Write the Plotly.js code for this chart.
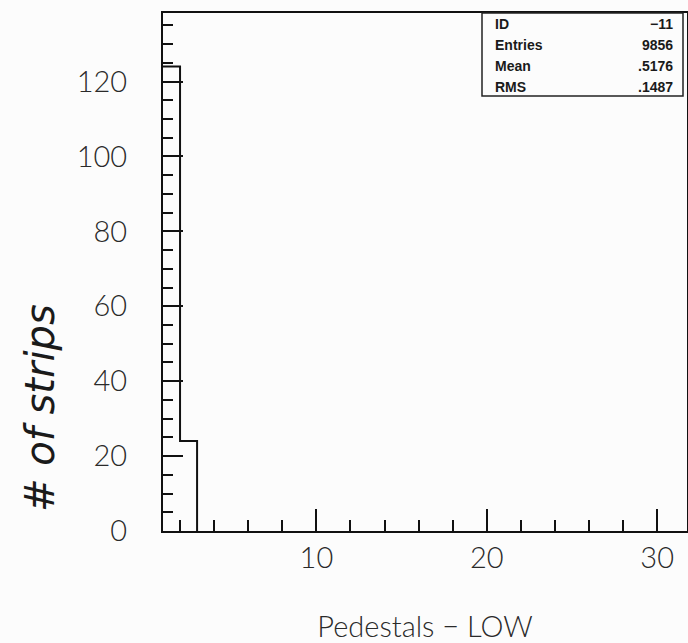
<!DOCTYPE html>
<html>
<head>
<meta charset="utf-8">
<script src="https://cdn.plot.ly/plotly-3.0.1.min.js"></script>
<style>
  html, body { margin: 0; padding: 0; background: #fcfcfc; }
  #chart { width: 688px; height: 643px; }
</style>
</head>
<body>
<div id="chart"></div>
<script>
// Histogram of low-gain pedestals: bin edges and counts per bin
const binEdges = [1, 2, 3];
const binCounts = [124, 24];

// Statistics box contents
const statLabels = ['ID', 'Entries', 'Mean', 'RMS'];
const statValues = ['\u221211', '9856', '.5176', '.1487'];

// Axis tick values
const xTickVals = [10, 20, 30];
const yTickVals = [0, 20, 40, 60, 80, 100, 120];

// Plot area geometry in pixels (used for the stats box placement)
const W = 688, H = 643;
const M = { l: 163, r: 1, t: 13, b: 112 };
const plotW = W - M.l - M.r;
const plotH = H - M.t - M.b;
const px2x = p => (p - M.l) / plotW;
const px2y = p => 1 - (p - M.t) / plotH;

// Outline of the histogram drawn as a step line
const step = {
  type: 'scatter',
  mode: 'lines',
  x: binEdges,
  y: binCounts.concat([0]),
  line: { shape: 'hv', color: '#111', width: 2 },
  hoverinfo: 'skip',
  showlegend: false
};

const tickFont = { family: 'Lato, "DejaVu Sans", sans-serif', size: 29, color: '#2a2a2a', weight: 300 };

const statFont = { family: '"Liberation Sans", Arial, sans-serif', size: 14, color: '#1a1a1a', weight: 'bold' };
const annotations = [];
const rowTop = 24, rowStep = 21;
statLabels.forEach((lab, i) => {
  const yy = px2y(rowTop + i * rowStep);
  annotations.push({
    xref: 'paper', yref: 'paper', x: px2x(493), y: yy,
    xanchor: 'left', yanchor: 'middle', showarrow: false,
    text: lab, font: statFont
  });
  annotations.push({
    xref: 'paper', yref: 'paper', x: px2x(675), y: yy,
    xanchor: 'right', yanchor: 'middle', showarrow: false,
    text: statValues[i], font: statFont
  });
});

// Hand-written y label
annotations.push({
  xref: 'paper', yref: 'paper', x: px2x(40), y: px2y(408),
  xanchor: 'center', yanchor: 'middle', showarrow: false,
  textangle: -90,
  text: '# of strips',
  font: { family: '"DejaVu Sans", sans-serif', size: 40, color: '#1a1a1a', style: 'italic' }
});

const layout = {
  width: W, height: H,
  margin: M,
  paper_bgcolor: '#fcfcfc',
  plot_bgcolor: '#fcfcfc',
  showlegend: false,
  xaxis: {
    range: [1, 31.75],
    tickmode: 'array',
    tickvals: xTickVals,
    ticktext: xTickVals.map(String),
    ticks: 'inside', ticklen: 22, tickwidth: 2, tickcolor: '#111',
    minor: { dtick: 2, tick0: 0, ticks: 'inside', ticklen: 11, tickwidth: 2, tickcolor: '#111' },
    showline: true, linecolor: '#111', linewidth: 2, mirror: true,
    showgrid: false, zeroline: false,
    tickfont: tickFont,
    ticklabelstandoff: 0,
    title: { text: 'Pedestals \u2212 LOW', font: tickFont, standoff: 54 },
    fixedrange: true
  },
  yaxis: {
    range: [0, 138.3],
    tickmode: 'array',
    tickvals: yTickVals,
    ticktext: yTickVals.map(String),
    ticks: 'inside', ticklen: 20, tickwidth: 2, tickcolor: '#111',
    minor: { dtick: 5, tick0: 0, ticks: 'inside', ticklen: 10, tickwidth: 2, tickcolor: '#111' },
    showline: true, linecolor: '#111', linewidth: 2, mirror: true,
    showgrid: false, zeroline: false,
    tickfont: tickFont,
    ticklabelstandoff: 28,
    fixedrange: true
  },
  shapes: [{
    type: 'rect', xref: 'paper', yref: 'paper',
    x0: px2x(482), x1: px2x(683), y0: px2y(96), y1: 1,
    line: { color: '#222', width: 1.5 },
    fillcolor: '#fcfcfc',
    layer: 'above'
  }],
  annotations: annotations
};

Plotly.newPlot('chart', [step], layout, { staticPlot: true, displayModeBar: false });
</script>
</body>
</html>
